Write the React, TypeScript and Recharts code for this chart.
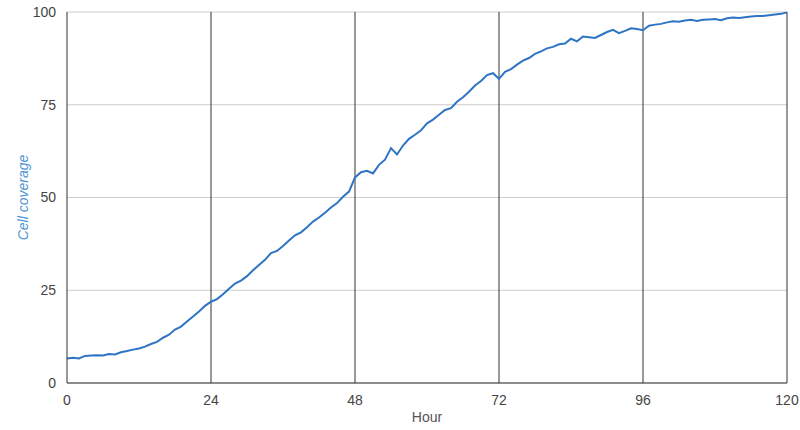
import React from 'react';
import {
  LineChart, Line, XAxis, YAxis, CartesianGrid, ReferenceLine, Label
} from 'recharts';

const hours: number[] = Array.from({ length: 121 }, (_, i) => i);

const coverage: number[] = [
  6.6, 6.8, 6.6, 7.3, 7.4, 7.5, 7.4, 7.8, 7.7, 8.3,
  8.6, 9.0, 9.3, 9.8, 10.5, 11.1, 12.2, 13.0, 14.4, 15.2,
  16.6, 17.9, 19.3, 20.8, 21.9, 22.6, 23.9, 25.4, 26.8, 27.6,
  28.8, 30.4, 31.8, 33.2, 35.0, 35.6, 36.9, 38.4, 39.8, 40.6,
  42.0, 43.5, 44.6, 45.9, 47.3, 48.5, 50.2, 51.6, 55.4, 56.8,
  57.2, 56.5, 58.8, 60.2, 63.3, 61.6, 64.0, 65.8, 66.9, 68.1,
  70.0, 71.0, 72.3, 73.6, 74.1, 75.8, 77.0, 78.5, 80.2, 81.4,
  83.0, 83.5, 82.0, 83.9, 84.6, 85.8, 86.9, 87.6, 88.7, 89.4,
  90.2, 90.6, 91.3, 91.5, 92.8, 92.1, 93.4, 93.2, 93.0, 93.8,
  94.6, 95.2, 94.3, 94.9, 95.6, 95.4, 95.1, 96.3, 96.6, 96.8,
  97.2, 97.5, 97.4, 97.7, 97.9, 97.6, 97.9, 98.0, 98.1, 97.8,
  98.3, 98.5, 98.4, 98.6, 98.8, 98.9, 98.9, 99.1, 99.3, 99.5,
  99.9,
];

const xTicks = [0, 24, 48, 72, 96, 120];
const yTicks = [0, 25, 50, 75, 100];
const dayLines = [24, 48, 72, 96, 120];

const data = hours.map((h, i) => ({ hour: h, coverage: coverage[i] }));

const font = '"Liberation Sans", Arial, sans-serif';

export default function App() {
  return (
    <div style={{ position: 'absolute', left: 0, top: 0, background: '#fff' }}>
      <LineChart
        width={800}
        height={430}
        data={data}
        margin={{ top: 12, right: 13, left: 7, bottom: 17 }}
      >
        <CartesianGrid vertical={false} stroke="#cccccc" strokeWidth={1} />
        {dayLines.map((d) => (
          <ReferenceLine key={d} x={d} stroke="#333" strokeWidth={1} />
        ))}
        <XAxis
          dataKey="hour"
          type="number"
          domain={[0, 120]}
          ticks={xTicks}
          tickLine={false}
          axisLine={{ stroke: '#333' }}
          tick={{ fill: '#444', fontSize: 14, fontFamily: font }}
          tickMargin={6}
          height={30}
        >
          <Label value="Hour" position="insideBottom" offset={-9} fill="#555" fontSize={14} fontFamily={font} />
        </XAxis>
        <YAxis
          type="number"
          domain={[0, 100]}
          ticks={yTicks}
          tickLine={false}
          axisLine={{ stroke: '#333' }}
          tick={{ fill: '#444', fontSize: 14, fontFamily: font }}
          tickMargin={5}
          width={60}
        >
          <Label
            value="Cell coverage"
            angle={-90}
            position="insideLeft"
            offset={16}
            fill="#4f95d4"
            fontSize={14}
            fontStyle="italic"
            fontFamily={font}
            style={{ textAnchor: 'middle' }}
          />
        </YAxis>
        <Line
          type="linear"
          dataKey="coverage"
          stroke="#2e74c4"
          strokeWidth={2}
          dot={false}
          isAnimationActive={false}
        />
      </LineChart>
    </div>
  );
}
